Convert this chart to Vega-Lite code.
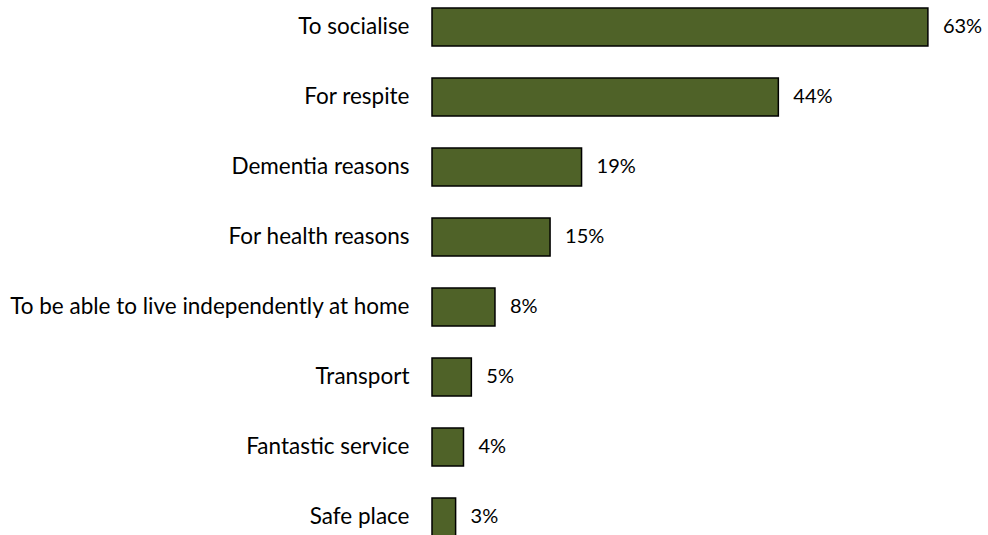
{
  "$schema": "https://vega.github.io/schema/vega-lite/v6.json",
  "autosize": {"type": "none"},
  "padding": {"left": 432, "top": 0, "right": 0, "bottom": 0},
  "width": 551,
  "height": 544,
  "background": "white",
  "config": {"view": {"stroke": null}, "font": "Lato"},
  "data": {
    "values": [
      {"reason": "To socialise", "pct": 63, "label": "63%"},
      {"reason": "For respite", "pct": 44, "label": "44%"},
      {"reason": "Dementia reasons", "pct": 19, "label": "19%"},
      {"reason": "For health reasons", "pct": 15, "label": "15%"},
      {"reason": "To be able to live independently at home", "pct": 8, "label": "8%"},
      {"reason": "Transport", "pct": 5, "label": "5%"},
      {"reason": "Fantastic service", "pct": 4, "label": "4%"},
      {"reason": "Safe place", "pct": 3, "label": "3%"}
    ]
  },
  "encoding": {
    "y": {
      "field": "reason", "type": "nominal", "sort": null,
      "scale": {"paddingInner": 0.457, "paddingOuter": 0.114},
      "axis": {"title": null, "domain": false, "ticks": false, "labelPadding": 23, "labelFontSize": 22.5, "labelColor": "#000000", "labelFont": "Lato", "labelLimit": 600}
    },
    "x": {
      "field": "pct", "type": "quantitative",
      "scale": {"domain": [0, 70], "nice": false},
      "axis": null
    }
  },
  "layer": [
    {"mark": {"type": "bar", "color": "#4F6228", "stroke": "#000000", "strokeWidth": 1.5}},
    {"mark": {"type": "text", "align": "left", "baseline": "middle", "dx": 15, "fontSize": 20, "color": "#000000", "font": "Lato"},
     "encoding": {"text": {"field": "label", "type": "nominal"}}}
  ]
}
